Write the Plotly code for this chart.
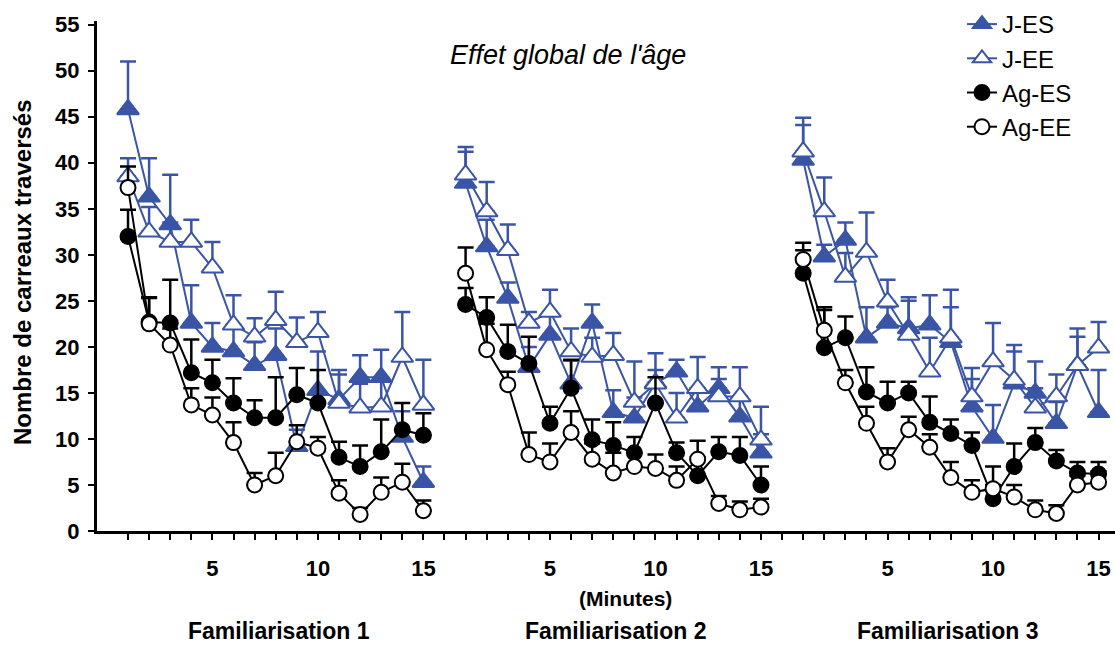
import plotly.graph_objects as go

minutes = list(range(1, 16))
panels = ["Familiarisation 1", "Familiarisation 2", "Familiarisation 3"]
series_names = ["J-ES", "J-EE", "Ag-ES", "Ag-EE"]

# mean values per panel (Familiarisation 1, 2, 3)
j_es = [
    [45.8, 36.3, 33.3, 22.6, 20.0, 19.5, 18.0, 19.1, 9.2, 15.3, 14.3, 16.7, 16.7, 10.2, 5.3],
    [37.8, 30.9, 25.3, 17.8, 21.3, 16.0, 22.6, 12.9, 12.3, 16.1, 17.3, 13.5, 15.5, 12.4, 8.5],
    [40.3, 29.8, 31.6, 21.0, 22.6, 22.0, 22.4, 20.5, 13.5, 10.1, 16.0, 15.0, 11.7, 18.0, 12.9],
]
j_es_top = [
    [51.0, 40.5, 38.7, 26.7, 22.6, 22.0, 20.5, 22.0, 11.0, 19.5, 17.0, 19.1, 19.7, 13.0, 7.0],
    [41.2, 33.8, 27.0, 20.0, 23.5, 18.5, 24.6, 15.3, 14.5, 19.3, 18.6, 15.5, 17.8, 14.5, 10.5],
    [44.1, 31.1, 33.5, 24.3, 24.3, 25.0, 25.6, 24.3, 16.5, 13.7, 19.5, 18.4, 14.0, 21.1, 17.5],
]
j_ee = [
    [38.5, 32.5, 31.4, 31.4, 28.6, 22.4, 21.1, 22.9, 20.5, 21.6, 13.9, 13.4, 13.5, 18.9, 13.7],
    [38.7, 34.7, 30.5, 22.6, 23.8, 19.5, 18.9, 19.1, 14.0, 16.0, 12.3, 15.5, 14.6, 14.6, 9.9],
    [41.2, 34.7, 27.6, 30.3, 24.9, 21.3, 17.3, 21.0, 14.6, 18.4, 16.4, 13.4, 14.6, 18.0, 19.9],
]
j_ee_top = [
    [40.5, 35.2, 33.5, 33.8, 31.4, 25.6, 23.1, 26.0, 23.2, 23.8, 17.5, 16.0, 16.5, 23.8, 18.6],
    [41.7, 37.9, 33.3, 23.8, 26.2, 22.0, 21.0, 21.5, 18.4, 17.5, 15.0, 18.9, 16.5, 17.8, 13.5],
    [44.9, 38.4, 30.2, 34.6, 27.3, 25.4, 21.0, 26.2, 17.7, 22.6, 20.2, 15.5, 17.0, 22.0, 22.7],
]
ag_es = [
    [32.0, 22.7, 22.6, 17.2, 16.1, 13.9, 12.3, 12.3, 14.8, 13.9, 8.0, 7.0, 8.6, 11.0, 10.4],
    [24.6, 23.2, 19.5, 18.2, 11.7, 15.5, 9.9, 9.3, 8.5, 13.9, 8.5, 6.0, 8.6, 8.2, 5.0],
    [28.0, 19.9, 21.0, 15.1, 13.9, 15.0, 11.8, 10.6, 9.3, 3.5, 7.0, 9.6, 7.6, 6.3, 6.2],
]
ag_es_top = [
    [34.9, 25.4, 27.3, 20.8, 18.6, 16.6, 14.2, 16.7, 17.7, 17.5, 9.7, 9.3, 12.1, 13.9, 12.8],
    [26.4, 25.4, 22.4, 21.1, 13.5, 18.6, 12.1, 11.8, 10.2, 16.7, 9.6, 8.0, 10.2, 10.2, 7.0],
    [30.5, 24.3, 23.3, 17.8, 16.2, 16.2, 14.6, 12.1, 10.7, 5.0, 9.5, 11.2, 8.8, 7.5, 7.5],
]
ag_ee = [
    [37.3, 22.5, 20.2, 13.7, 12.6, 9.6, 5.0, 6.0, 9.7, 9.0, 4.1, 1.8, 4.2, 5.3, 2.2],
    [28.0, 19.7, 15.9, 8.3, 7.5, 10.7, 7.8, 6.3, 7.0, 6.8, 5.5, 7.8, 3.0, 2.3, 2.6],
    [29.5, 21.8, 16.1, 11.7, 7.5, 11.0, 9.1, 5.8, 4.2, 4.6, 3.7, 2.3, 1.9, 5.0, 5.3],
]
ag_ee_top = [
    [39.6, 25.3, 22.0, 15.5, 14.5, 11.8, 6.3, 8.5, 11.5, 10.2, 5.5, 2.5, 5.8, 7.3, 3.3],
    [30.8, 22.5, 17.3, 10.7, 9.5, 13.0, 9.5, 8.5, 8.5, 8.3, 7.0, 9.8, 3.8, 3.2, 3.5],
    [31.3, 24.0, 17.5, 13.5, 9.0, 12.4, 10.5, 7.5, 5.5, 7.0, 5.0, 3.3, 2.8, 6.0, 6.5],
]

tick_labels = ["5", "10", "15"]

BLUE = "#3A55A5"
BLACK = "#000000"
PANEL_STEP = 16


def flatten(panel_values):
    xs, ys = [], []
    for i, vals in enumerate(panel_values):
        for m, v in zip(minutes, vals):
            xs.append(i * PANEL_STEP + m)
            ys.append(v)
        xs.append(None)
        ys.append(None)
    return xs, ys


def errs(panel_values, panel_tops):
    out = []
    for vals, tops in zip(panel_values, panel_tops):
        out.extend([t - v for v, t in zip(vals, tops)])
        out.append(None)
    return out


styles = {
    "J-ES": dict(color=BLUE, symbol="triangle-up", fill=BLUE, size=19),
    "J-EE": dict(color=BLUE, symbol="triangle-up", fill="white", size=19),
    "Ag-ES": dict(color=BLACK, symbol="circle", fill=BLACK, size=15),
    "Ag-EE": dict(color=BLACK, symbol="circle", fill="white", size=15),
}
data = {
    "J-ES": (j_es, j_es_top),
    "J-EE": (j_ee, j_ee_top),
    "Ag-ES": (ag_es, ag_es_top),
    "Ag-EE": (ag_ee, ag_ee_top),
}

fig = go.Figure()
for name in series_names:
    vals, tops = data[name]
    st = styles[name]
    xs, ys = flatten(vals)
    e = errs(vals, tops)
    fig.add_trace(go.Scatter(
        x=xs, y=ys, name=name, mode="lines+markers",
        line=dict(color=st["color"], width=2),
        marker=dict(symbol=st["symbol"], size=st["size"], color=st["fill"],
                    line=dict(color=st["color"], width=2)),
        error_y=dict(type="data", symmetric=False, array=e,
                     arrayminus=[0 if v is not None else None for v in e],
                     color=st["color"], thickness=2.5, width=8),
        connectgaps=False,
    ))

tickvals = list(range(1, 3 * PANEL_STEP))
ticktext = []
for t in tickvals:
    m = (t - 1) % PANEL_STEP + 1
    ticktext.append(str(m) if str(m) in tick_labels else "")

plot_left, plot_right = 97, 1115
plot_top, plot_bottom = 21, 531
W = plot_right - plot_left
H = plot_bottom - plot_top


def px(x):
    return (x - plot_left) / W


def py(y):
    return (plot_bottom - y) / H


FONT = "Arial, Liberation Sans, sans-serif"

fig.update_layout(
    width=1115, height=646,
    margin=dict(l=plot_left, r=1115 - plot_right, t=plot_top, b=646 - plot_bottom),
    paper_bgcolor="white", plot_bgcolor="white",
    font=dict(family=FONT, color="black"),
    showlegend=True,
    legend=dict(x=px(962), y=py(2), xanchor="left", yanchor="top",
                font=dict(size=24, family=FONT),
                bgcolor="rgba(0,0,0,0)", tracegroupgap=0),
    xaxis=dict(range=[-0.47, 47.78], showline=True, linewidth=3, linecolor="black",
               showgrid=False, zeroline=False, ticks="outside", ticklen=6, tickwidth=1.5,
               tickcolor="black", tickmode="array", tickvals=tickvals, ticktext=ticktext,
               tickfont=dict(size=22, weight="bold"), ticklabelstandoff=10),
    yaxis=dict(range=[0, 55.4], showline=True, linewidth=3, linecolor="black",
               showgrid=False, zeroline=False, ticks="outside", ticklen=6, tickwidth=2,
               tickcolor="black", dtick=5, tick0=0, ticklabelstandoff=4,
               tickfont=dict(size=22, weight="bold")),
)


def label(text, x, y, size, angle=0, **font):
    fig.add_annotation(text=text, x=px(x), y=py(y), xref="paper", yref="paper",
                       xanchor="center", yanchor="middle", showarrow=False,
                       textangle=angle, font=dict(size=size, **font))


label("Effet global de l'âge", 568, 55, 27, style="italic")
label("(Minutes)", 625, 598, 21, weight="bold")
for text, cx in zip(panels, [279, 616, 948]):
    label(text, cx, 631, 23, weight="bold")
label("Nombre de carreaux traversés", 22, 272, 24, angle=-90, weight="bold")

fig.write_html("out.html", config={"displayModeBar": False},
               post_script="document.body.style.margin='0px';document.body.style.overflow='hidden';")
